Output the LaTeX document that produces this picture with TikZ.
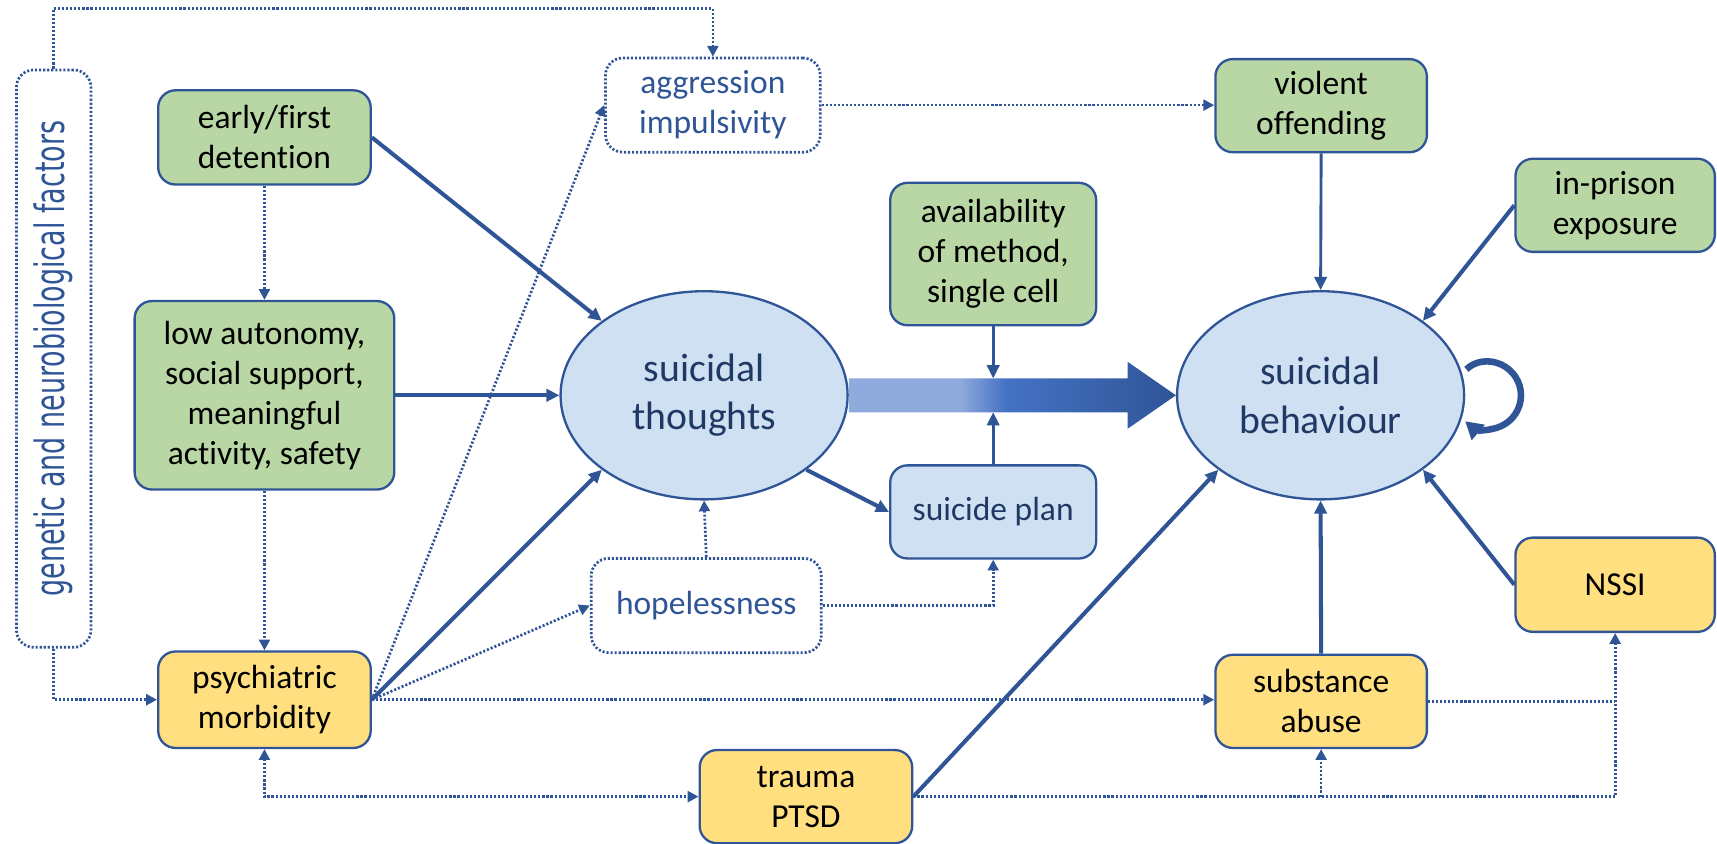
\documentclass[tikz,border=0pt]{standalone}
\usepackage{fontspec}
\setmainfont{Carlito}[Ligatures=NoCommon]
\newfontfamily\vertfont{DejaVu Sans}
\usetikzlibrary{arrows.meta,shapes.geometric,calc}

\definecolor{linecol}{HTML}{2F5597}
\definecolor{navy}{HTML}{203864}
\definecolor{greenfill}{HTML}{B9D7A4}
\definecolor{yellowfill}{HTML}{FFDF80}
\definecolor{bluefill}{HTML}{CEE0F2}
\definecolor{arrowlight}{HTML}{8FAADC}
\definecolor{arrowmid}{HTML}{4472C4}
\definecolor{arrowdark}{HTML}{2F5597}
\pgfdeclarehorizontalshading{fatshade}{100bp}{color(0bp)=(arrowlight); color(42bp)=(arrowlight); color(49bp)=(arrowmid); color(75bp)=(arrowdark); color(100bp)=(arrowdark)}

\begin{document}
\begin{tikzpicture}[x=0.01cm, y=-0.01cm,
	box/.style={draw=linecol, line width=0.6pt, rounded corners=4.5pt, align=center, inner sep=1pt, font=\boxfont, minimum width=1.94cm, minimum height=0.86cm},
	greenbox/.style={box, fill=greenfill},
	yellowbox/.style={box, fill=yellowfill},
	planbox/.style={box, fill=bluefill, text=navy},
	dotbox/.style={box, line width=0.7pt, dash pattern=on 0.55pt off 0.5pt, text=linecol},
	oval/.style={ellipse, draw=linecol, line width=0.6pt, fill=bluefill, text=navy, align=center, font=\ovalfont, minimum width=2.62cm, minimum height=1.9cm, inner sep=0pt},
	link/.style={draw=linecol, line width=1.05pt, -{Triangle[length=3.4pt,width=3.2pt]}},
	thinlink/.style={link, line width=0.75pt},
	dotlink/.style={draw=linecol, line width=0.7pt, dash pattern=on 0.55pt off 0.5pt, >={Triangle[length=2.8pt,width=2.8pt]}, ->},
	selfloop/.style={draw=linecol, line width=1.7pt, -{Triangle[length=4.5pt,width=5pt]}}]

\def\boxfont{\fontsize{8.7}{10.4}\selectfont}
\def\ovalfont{\fontsize{10.3}{12.6}\selectfont}
\def\vertsize{\fontsize{7}{8}\selectfont}

\path [use as bounding box] (0,0) rectangle (1568,770);

% LEFT FACTORS
\node [dotbox, minimum width=0.68cm, minimum height=5.27cm, font=\vertfont\vertsize] (genetic) at (49,327.5) {\rotatebox{90}{\scalebox{1}[1.5]{genetic and neurobiological factors}}};
\node [greenbox] (early) at (241.5,125.5) {early/first\\detention};
\node [greenbox, minimum width=2.37cm, minimum height=1.72cm] (low) at (241.5,361) {low autonomy,\\social support,\\meaningful\\activity, safety};
\node [yellowbox, minimum height=0.88cm] (psych) at (241.5,639) {psychiatric\\morbidity};

% MIDDLE
\node [dotbox, minimum width=1.96cm] (aggr) at (651,96) {aggression\\impulsivity};
\node [oval] (th) at (643,361) {suicidal\\thoughts};
\node [dotbox, minimum width=2.10cm] (hope) at (645,553) {hopelessness};
\node [yellowbox, minimum height=0.85cm] (trauma) at (736,727.5) {trauma\\PTSD};
\node [greenbox, minimum width=1.88cm, minimum height=1.30cm] (avail) at (907,232) {availability\\of method,\\single cell};
\node [planbox, minimum width=1.88cm, minimum height=0.85cm] (plan) at (907,467.5) {suicide plan};

% RIGHT FACTORS
\node [greenbox, minimum width=1.93cm, minimum height=0.85cm] (violent) at (1206.5,96.5) {violent\\offending};
\node [oval] (beh) at (1206,361) {suicidal\\behaviour};
\node [greenbox, minimum width=1.82cm, minimum height=0.85cm] (inprison) at (1475,187.5) {in-prison\\exposure};
\node [yellowbox, minimum width=1.82cm] (nssi) at (1475,534) {NSSI};
\node [yellowbox, minimum width=1.93cm, minimum height=0.85cm] (subst) at (1206.5,640.5) {substance\\abuse};

% MAIN PATH
\coordinate (shafttop) at ($(th.east)+(0,-15.5)$);
\coordinate (shaftbot) at ($(th.east)+(0,15.5)$);
\shade [shading=fatshade] (shafttop) -| ($(beh.west)+(-44,-30.5)$) -- (beh.west) -- ++(-44,30.5) |- (shaftbot) -- cycle;

% DOTTED LINKS
\draw [dotlink] (genetic.north) -- ++(0,-55) -| (aggr.north);
\draw [dotlink] (genetic.south) |- (psych.west);
\draw [dotlink] (early.south) -- (low.north);
\draw [dotlink] (low.south) -- (psych.north);
\draw [dotlink] (psych.east) -- (aggr.west);
\draw [dotlink] (psych.east) -- (hope.west);
\draw [dotlink] (psych.east) -- (psych.east -| subst.west);
\draw [dotlink, <->] (psych.south) |- (trauma.west);
\draw [dotlink] (aggr.east) -- (aggr.east -| violent.west);
\draw [dotlink] (hope.north) -- (th.south);
\draw [dotlink] (hope.east) -| (plan.south);
\draw [dotlink] (trauma.east) -| (nssi.south);
\draw [dotlink] (trauma.east -| subst.south) -- (subst.south);
\draw [dotlink, -] (subst.east) -- (subst.east -| nssi.south);

% SOLID LINKS
\draw [link] (early.east) -- (th.north west);
\draw [link] (low.east) -- (th.west);
\draw [link] (psych.east) -- (th.south west);
\draw [link] (th.south east) -- (plan.west);
\draw [thinlink] (avail.south) -- (avail.south |- shafttop);
\draw [thinlink] (plan.north) -- (plan.north |- shaftbot);
\draw [thinlink] (violent.south) -- (beh.north);
\draw [link] (inprison.west) -- (beh.north east);
\draw [link] (nssi.west) -- (beh.south east);
\draw [link] (subst.north) -- (beh.south);
\draw [link] (trauma.east) -- (beh.south west);
\draw [selfloop] (beh.east) ++(1,-23.7)
	.. controls (1347,329.5) and (1360,327.8) .. (1371,332.9)
	.. controls (1382,338) and (1389,349) .. (1389,361)
	.. controls (1389,373) and (1382,384) .. (1371,389.1)
	.. controls (1360,394.2) and (1347,392.4) .. (1338,384.7);

\end{tikzpicture}
\end{document}
